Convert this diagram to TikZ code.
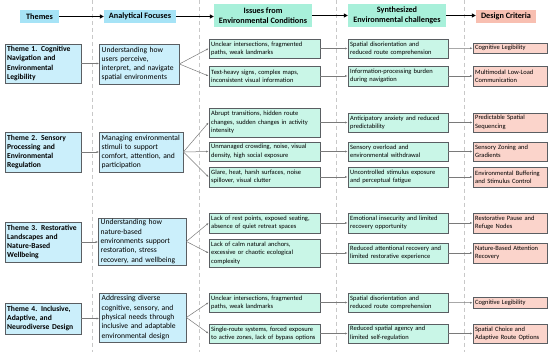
\documentclass[tikz,border=0pt]{standalone}
\usepackage{fontspec}
\setmainfont{Carlito}
\usetikzlibrary{arrows.meta}
\hyphenpenalty=10000
\exhyphenpenalty=10000
\definecolor{hblue}{HTML}{A6E3F6}
\definecolor{bblue}{HTML}{CBEFFB}
\definecolor{hmint}{HTML}{A8F0DA}
\definecolor{bmint}{HTML}{C9F6E7}
\definecolor{hpink}{HTML}{F8BFB1}
\definecolor{bpink}{HTML}{FBD4CB}
\definecolor{edgec}{HTML}{5A5E62}
\definecolor{linec}{HTML}{7A7A7A}
\definecolor{sepc}{HTML}{C8C8C8}
\newcommand\mkbox[7]{%
  \pgfmathsetmacro\mkbw{#5-#3}\pgfmathsetmacro\mkbh{#6-#4}\pgfmathsetmacro\mktw{#5-#3-4.4}%
  \node[#1, minimum width=\mkbw pt, minimum height=\mkbh pt, text width=\mktw pt] (#2) at ({(#3+#5)/2},{(#4+#6)/2}) {#7};}
\tikzset{
  base/.style={draw=edgec, line width=0.8pt, inner xsep=2.2pt, inner ysep=1pt, align=left, anchor=center},
  themebox/.style={base, fill=bblue, font=\fontsize{7.6}{9.2}\selectfont\bfseries},
  focbox/.style={base, fill=bblue, font=\fontsize{7.6}{9.3}\selectfont},
  issbox/.style={base, fill=bmint, font=\fontsize{6.5}{8.4}\selectfont},
  desbox/.style={base, fill=bpink, font=\fontsize{6.5}{8.4}\selectfont},
  hdr/.style={inner sep=1pt, align=center, font=\fontsize{8.2}{10}\selectfont\bfseries, anchor=center},
  harrow/.style={-{Triangle[length=4pt,width=4pt]}, line width=1.1pt, black},
  conn/.style={-{Latex[length=2.5pt,width=2pt]}, line width=0.5pt, linec},
  sep/.style={sepc, line width=0.6pt, dash pattern=on 4pt off 3pt}
}
\begin{document}
\begin{tikzpicture}[x=1pt,y=-1pt]
\useasboundingbox (0,0) rectangle (550,352);
\fill[white] (0,0) rectangle (550,352);
% separators
\foreach \sx in {92,199,336,464} \draw[sep] (\sx,0) -- (\sx,352);
% headers
\node[hdr, fill=hblue, minimum width=39pt, minimum height=13pt] (hth) at (39.5,16.5) {Themes};
\node[hdr, fill=hblue, minimum width=72pt, minimum height=13pt] (han) at (140,16.5) {Analytical Focuses};
\node[hdr, fill=hmint, minimum width=98pt, minimum height=23pt] (his) at (263,15.5) {Issues from\\Environmental Conditions};
\node[hdr, fill=hmint, minimum width=98pt, minimum height=23pt] (hsy) at (397,15.5) {Synthesized\\Environmental challenges};
\node[hdr, fill=hpink, minimum width=60pt, minimum height=13pt] (hde) at (506,16.5) {Design Criteria};
\draw[harrow] (hth.east) -- (han.west);
\draw[harrow] (han.east) -- (his.west |- han.east);
\draw[harrow] (his.east) -- (hsy.west);
\draw[harrow] (hsy.east) -- (hde.west |- hsy.east);
% themes
\mkbox{themebox}{t1}{5}{44}{81}{83}{Theme 1. Cognitive\\Navigation and\\Environmental\\Legibility}
\mkbox{themebox}{t2}{5}{132}{81}{172}{Theme 2. Sensory\\Processing and\\Environmental\\Regulation}
\mkbox{themebox}{t3}{5}{222}{81}{262}{Theme 3. Restorative\\Landscapes and\\Nature-Based\\Wellbeing}
\mkbox{themebox}{t4}{5}{303}{81}{334}{Theme 4. Inclusive,\\Adaptive, and\\Neurodiverse Design}
% focuses
\mkbox{focbox}{a1}{99.5}{44}{179}{84}{Understanding how\\users perceive,\\interpret, and navigate\\spatial environments}
\mkbox{focbox}{a2}{99.5}{132}{183}{172}{Managing environmental\\stimuli to support\\comfort, attention, and\\participation}
\mkbox{focbox}{a3}{98.5}{218}{186}{265}{Understanding how\\nature-based\\environments support\\restoration, stress\\recovery, and wellbeing}
\mkbox{focbox}{a4}{99.5}{293}{186}{342}{Addressing diverse\\cognitive, sensory, and\\physical needs through\\inclusive and adaptable\\environmental design}
% issues
\mkbox{issbox}{i1a}{209}{39}{320}{58}{Unclear intersections, fragmented\\paths, weak landmarks}
\mkbox{issbox}{i1b}{209}{66}{320}{86}{Text-heavy signs, complex maps,\\inconsistent visual information}
\mkbox{issbox}{i2a}{209}{108}{320}{137}{Abrupt transitions, hidden route\\changes, sudden changes in activity\\intensity}
\mkbox{issbox}{i2b}{209}{142}{320}{161}{Unmanaged crowding, noise, visual\\density, high social exposure}
\mkbox{issbox}{i2c}{209}{167}{320}{187}{Glare, heat, harsh surfaces, noise\\spillover, visual clutter}
\mkbox{issbox}{i3a}{209}{213}{320}{233}{Lack of rest points, exposed seating,\\absence of quiet retreat spaces}
\mkbox{issbox}{i3b}{209}{239}{320}{267}{Lack of calm natural anchors,\\excessive or chaotic ecological\\complexity}
\mkbox{issbox}{i4a}{209}{293}{320}{312}{Unclear intersections, fragmented\\paths, weak landmarks}
\mkbox{issbox}{i4b}{209}{324}{320}{343}{Single-route systems, forced exposure\\to active zones, lack of bypass options}
% synthesized
\mkbox{issbox}{s1a}{348}{39}{448}{58}{Spatial disorientation and\\reduced route comprehension}
\mkbox{issbox}{s1b}{348}{66}{448}{86}{Information-processing burden\\during navigation}
\mkbox{issbox}{s2a}{348}{113}{448}{132}{Anticipatory anxiety and reduced\\predictability}
\mkbox{issbox}{s2b}{348}{142}{448}{161}{Sensory overload and\\environmental withdrawal}
\mkbox{issbox}{s2c}{348}{167}{448}{187}{Uncontrolled stimulus exposure\\and perceptual fatigue}
\mkbox{issbox}{s3a}{348}{213}{448}{233}{Emotional insecurity and limited\\recovery opportunity}
\mkbox{issbox}{s3b}{348}{243}{448}{263}{Reduced attentional recovery and\\limited restorative experience}
\mkbox{issbox}{s4a}{348}{293}{448}{312}{Spatial disorientation and\\reduced route comprehension}
\mkbox{issbox}{s4b}{348}{324}{448}{343}{Reduced spatial agency and\\limited self-regulation}
% design
\mkbox{desbox}{d1a}{473}{43}{547}{53.5}{Cognitive Legibility}
\mkbox{desbox}{d1b}{473}{66}{547}{86}{Multimodal Low-Load\\Communication}
\mkbox{desbox}{d2a}{473}{113}{547}{132}{Predictable Spatial\\Sequencing}
\mkbox{desbox}{d2b}{473}{142}{547}{161}{Sensory Zoning and\\Gradients}
\mkbox{desbox}{d2c}{473}{167}{547}{187}{Environmental Buffering\\and Stimulus Control}
\mkbox{desbox}{d3a}{473}{213}{547}{233}{Restorative Pause and\\Refuge Nodes}
\mkbox{desbox}{d3b}{473}{243}{547}{263}{Nature-Based Attention\\Recovery}
\mkbox{desbox}{d4a}{473}{297.5}{547}{308}{Cognitive Legibility}
\mkbox{desbox}{d4b}{473}{324}{547}{343}{Spatial Choice and\\Adaptive Route Options}
% connectors
\foreach \n in {1,2,3,4} \draw[conn] (t\n.east) -- (a\n.west |- t\n.east);
\foreach \i in {1a,1b} \draw[conn] (a1.east) -- (i\i.west);
\foreach \i in {2a,2b,2c} \draw[conn] (a2.east) -- (i\i.west);
\foreach \i in {3a,3b} \draw[conn] (a3.east) -- (i\i.west);
\foreach \i in {4a,4b} \draw[conn] (a4.east) -- (i\i.west);
\foreach \i in {1a,1b,2a,2b,2c,3a,3b,4a,4b} {
  \draw[conn] (i\i.east) -- (s\i.west);
  \draw[conn] (s\i.east) -- (d\i.west);
}
\end{tikzpicture}
\end{document}
